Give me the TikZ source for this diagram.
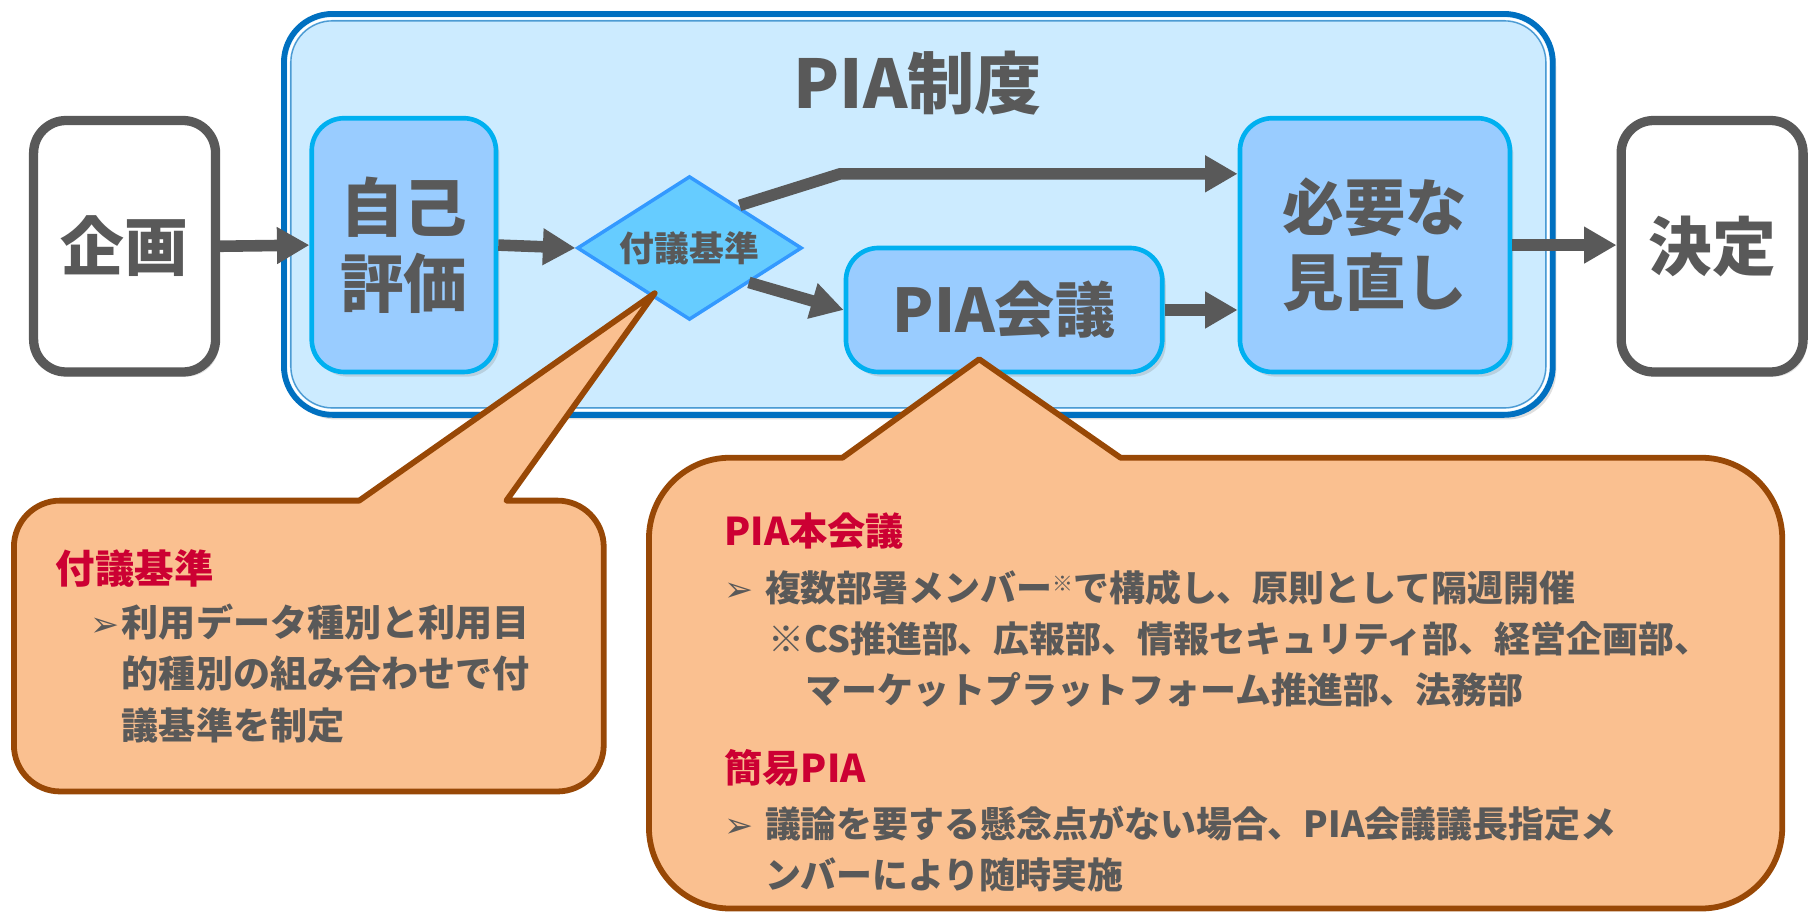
\documentclass[tikz,border=0pt]{standalone}
\usepackage{fontspec}
\setmainfont{Noto Sans CJK JP}
\newfontfamily\symfont{DejaVu Sans}
\usepackage{tikz}
\usetikzlibrary{positioning, calc, shapes.geometric, arrows.meta, shadows}

\begin{document}
\begin{tikzpicture}[
  x=1pt, y=-1pt,
  every node/.style={
    align=center,
    text=textgray,
    font=\bfseries,
    inner sep=0pt,
  },
  box/.style={
    rounded corners=28pt,
    line width=4pt,
    draw=boxline,
    fill=boxfill,
    drop shadow={shadow xshift=3pt, shadow yshift=-4pt, opacity=0.25},
  },
  flow/.style={
    line width=10pt,
    draw=textgray,
    -{Triangle[length=28pt, width=30pt]},
  },
  callout/.style={
    draw=calloutline,
    fill=calloutfill,
    line width=5pt,
    line join=round,
  },
]
  \definecolor{textgray}{RGB}{89,89,89}
  \definecolor{redish}{RGB}{204,0,51}
  \definecolor{bigfill}{RGB}{204,235,255}
  \definecolor{bigline}{RGB}{0,112,192}
  \definecolor{boxfill}{RGB}{153,204,255}
  \definecolor{boxline}{RGB}{0,176,240}
  \definecolor{diafill}{RGB}{102,204,255}
  \definecolor{dialine}{RGB}{51,153,255}
  \definecolor{calloutfill}{RGB}{250,192,144}
  \definecolor{calloutline}{RGB}{152,72,6}
  \newcommand{\bulletmark}{\symfont\fontsize{30}{30}\selectfont ➢}

  \useasboundingbox (0,0) rectangle (1568,787);

  % PIA frame
  \draw[
    fill=bigfill,
    draw=bigline,
    line width=5pt,
    rounded corners=42pt,
    drop shadow={shadow xshift=3pt, shadow yshift=-4pt, opacity=0.25},
  ] (245,12) rectangle (1340,358);
  \draw[draw=white, line width=2pt, rounded corners=38pt] (249,16) rectangle (1336,354);
  \draw[draw=bigline!70, line width=1.2pt, rounded corners=36pt] (251,18) rectangle (1334,352);
  \node[font=\fontsize{58}{60}\selectfont\bfseries] (T) at (792,72) {PIA制度};

  % flow
  \node[
    box,
    draw=textgray,
    fill=white,
    line width=8pt,
    minimum width=157pt,
    minimum height=217pt,
    font=\fontsize{55}{60}\selectfont\bfseries,
  ] (A) at (107.5,212.5) {企画};
  \node[
    box,
    minimum width=159pt,
    minimum height=219pt,
    font=\fontsize{55}{65}\selectfont\bfseries,
  ] (B) at (348.5,211.5) {自己\\評価};
  \node[
    diamond,
    aspect=1.56,
    fill=diafill,
    draw=dialine,
    line width=3pt,
    minimum width=194pt,
    minimum height=124pt,
    font=\fontsize{30}{30}\selectfont\bfseries,
  ] (C) at (595,214) {付議基準};
  \node[
    box,
    minimum width=273pt,
    minimum height=107pt,
    font=\fontsize{52}{60}\selectfont\bfseries,
  ] (D) at (866.5,267.5) {PIA会議};
  \node[
    box,
    minimum width=233pt,
    minimum height=219pt,
    font=\fontsize{53}{65}\selectfont\bfseries,
  ] (E) at (1186.5,211.5) {必要な\\見直し};
  \node[
    box,
    draw=textgray,
    fill=white,
    line width=8pt,
    minimum width=157pt,
    minimum height=217pt,
    font=\fontsize{55}{60}\selectfont\bfseries,
  ] (F) at (1477.5,212.5) {決定};

  \coordinate (bend) at (725,150);
  \draw[flow] (A.east) -- (B.west);
  \draw[flow] (B.east) -- (C.west);
  \draw[flow] ($(C.north east)+(-6,-5)$) -- (bend) -- (bend -| E.west);
  \draw[flow] ($(C.south east)+(2,-2)$) -- (D.west);
  \draw[flow] (D.east) -- (D.east -| E.west);
  \draw[flow] (E.east) -- (E.east -| F.west);

  % callouts
  \draw[callout] (565,253) -- (437,432) [rounded corners=40pt] -- (521,432)
    -- (521,683) -- (12,683) -- (12,432) [sharp corners] -- (310,432) -- cycle;
  \draw[callout] (845,310) -- (967,395) [rounded corners=70pt] -- (1538,395)
    -- (1538,784) -- (560,784) -- (560,395) [sharp corners] -- (727,395) -- cycle;

  \node[
    anchor=north west,
    align=left,
    font=\fontsize{32}{44.5}\selectfont\bfseries,
  ] (G) at (48,474)
  {
    \textcolor{redish}{\fontsize{34}{44.5}\selectfont 付議基準}\\[1pt]
    \hspace*{30pt}\makebox[27pt][l]{\bulletmark}利用データ種別と利用目\\
    \hspace*{57pt}的種別の組み合わせで付\\
    \hspace*{57pt}議基準を制定
  };

  \node[
    anchor=north west,
    align=left,
    font=\fontsize{31}{44}\selectfont\bfseries,
  ] (H) at (625,442)
  {
    \textcolor{redish}{\fontsize{33}{44}\selectfont PIA本会議}\\[5pt]
    \makebox[35pt][l]{\bulletmark}複数部署メンバー\raisebox{9pt}{\fontsize{18}{18}\selectfont ※}で構成し、原則として隔週開催\\
    \hspace*{38pt}※CS推進部、広報部、情報セキュリティ部、経営企画部、\\
    \hspace*{70pt}マーケットプラットフォーム推進部、法務部\\[24pt]
    \textcolor{redish}{\fontsize{33}{44}\selectfont 簡易PIA}\\[3pt]
    \makebox[35pt][l]{\bulletmark}議論を要する懸念点がない場合、PIA会議議長指定メ\\
    \hspace*{35pt}ンバーにより随時実施
  };
\end{tikzpicture}
\end{document}
